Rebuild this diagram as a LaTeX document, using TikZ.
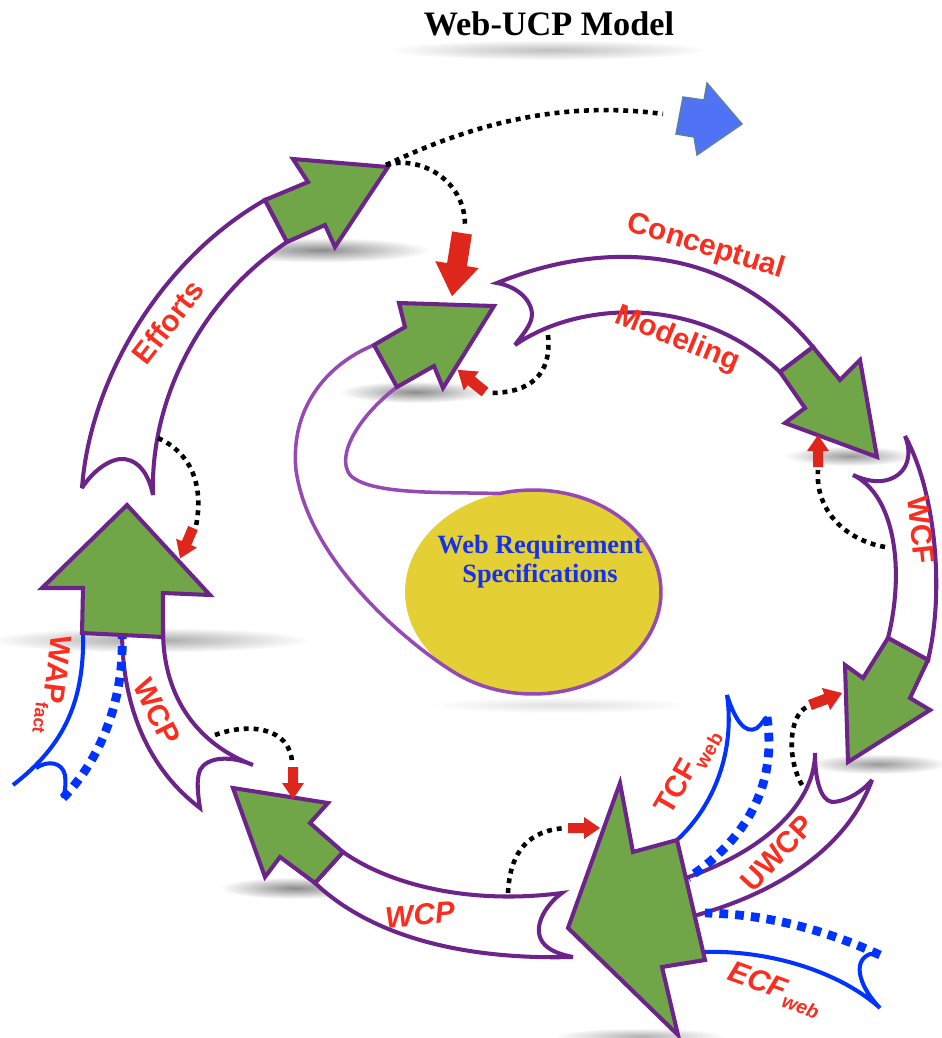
\documentclass[tikz,border=0pt]{standalone}
\usepackage{fontspec}
\setmainfont{Liberation Serif}
\newfontfamily\labfont{Liberation Sans}
\usetikzlibrary{fadings}
\tikzfading[name=blobfade, inner color=transparent!0, outer color=transparent!100]
\definecolor{purp}{RGB}{108,36,138}
\definecolor{loopc}{RGB}{150,72,180}
\definecolor{grn}{RGB}{112,166,72}
\definecolor{yel}{RGB}{228,208,52}
\definecolor{redl}{RGB}{250,45,30}
\definecolor{reda}{RGB}{222,38,28}
\definecolor{bluel}{RGB}{0,51,255}
\definecolor{bluet}{RGB}{20,50,235}
\definecolor{bluea}{RGB}{80,115,245}
\definecolor{blueedge}{RGB}{90,130,160}
\begin{document}
\begin{tikzpicture}[x=0.02cm,y=-0.02cm,
  band/.style={fill=white, draw=purp, line width=2.3pt, line join=miter, miter limit=4},
  head/.style={fill=grn, draw=purp, line width=2.3pt, line join=miter, miter limit=6},
  loopline/.style={draw=loopc, line width=2pt},
  bluesolid/.style={draw=bluel, line width=2.3pt},
  bluedot/.style={draw=bluel, line width=5pt, dash pattern=on 5pt off 4pt},
  blackdot/.style={draw=black, line width=2.6pt, dash pattern=on 2.8pt off 2.8pt},
  lbl/.style={text=redl, font=\labfont\bfseries\fontsize{17}{17}\selectfont, inner sep=0pt},
  lbli/.style={text=redl, font=\labfont\bfseries\itshape\fontsize{17}{17}\selectfont, inner sep=0pt},
  softshadow/.style={fill=black, opacity=#1, path fading=blobfade},
  pics/redarrow/.style={code={
    \fill[reda] (0,-5) -- (16,-5) -- (16,-11) -- (32,0) -- (16,11) -- (16,5) -- (0,5) -- cycle;}}
]
% canvas
\fill[white] (0,0) rectangle (941,1038);
\useasboundingbox (0,0) rectangle (941,1038);

% soft shadows under the title and the arrow heads
\fill[softshadow=.25] (549,50) ellipse [x radius=3.2cm, y radius=0.2cm];
\fill[softshadow=.45] (320,250) ellipse [x radius=2.2cm, y radius=0.25cm];
\fill[softshadow=.45] (415,392) ellipse [x radius=1.5cm, y radius=0.22cm];
\fill[softshadow=.4] (850,456) ellipse [x radius=1.3cm, y radius=0.2cm];
\fill[softshadow=.4] (878,764) ellipse [x radius=1.4cm, y radius=0.2cm];
\fill[softshadow=.35] (150,640) ellipse [x radius=3.2cm, y radius=0.25cm];
\fill[softshadow=.45] (295,888) ellipse [x radius=1.5cm, y radius=0.22cm];
\fill[softshadow=.3] (640,1036) ellipse [x radius=1.7cm, y radius=0.16cm];
\fill[softshadow=.12] (560,705) ellipse [x radius=2.6cm, y radius=0.16cm];

% title
\node[font=\bfseries\fontsize{19.5}{20}\selectfont, inner sep=0pt] (title) at (549,24) {Web-UCP Model};

% requirement ellipse with the loop that feeds the central arrow head
\fill[yel] (533,592) ellipse [x radius=2.56cm, y radius=2.04cm];
\coordinate (chin) at (397,387);
\coordinate (chout) at (374,345);
\draw[loopline] (chin) .. controls (360,415) and (335,455) .. (350,475)
  .. controls (370,495) and (440,492) .. (500,493.5)
  -- plot[domain=-105:125, samples=90, variable=\t] ({533+128*cos(\t)}, {592+102*sin(\t)})
  .. controls (425,656) and (310,570) .. (296,470)
  .. controls (290,410) and (325,365) .. (chout);
\node[text=bluet, font=\bfseries\fontsize{15}{16.5}\selectfont, align=center, inner sep=0pt] (wrs) at (540,562) {Web Requirement\\Specifications};

% curved bands
\path[band] (82,488) .. controls (90,380) and (160,260) .. (265,200) -- (287,242)
  .. controls (200,300) and (150,400) .. (153,495)
  .. controls (148,470) and (135,458) .. (120,459)
  .. controls (105,461) and (90,475) .. (82,488) -- cycle;
\path[band] (497,283) .. controls (590,245) and (720,235) .. (813,347) -- (780,372)
  .. controls (700,295) and (580,300) .. (515,345)
  .. controls (522,335) and (532,325) .. (532,314)
  .. controls (531,298) and (515,286) .. (497,283) -- cycle;
\path[band] (905,436) .. controls (935,490) and (945,590) .. (928,660) -- (888,638)
  .. controls (905,570) and (895,495) .. (853,475)
  .. controls (862,479) and (872,482) .. (882,481)
  .. controls (905,478) and (914,458) .. (905,436) -- cycle;
\path[band] (680,880) .. controls (770,850) and (815,800) .. (815,753)
  .. controls (815,778) and (820,800) .. (832,802)
  .. controls (845,802) and (862,792) .. (872,780)
  .. controls (850,840) and (790,890) .. (690,917) -- cycle;
\path[band] (122,630) .. controls (122,710) and (150,770) .. (200,808)
  .. controls (198,795) and (196,780) .. (200,770)
  .. controls (207,757) and (230,755) .. (253,765)
  .. controls (200,745) and (163,700) .. (163,630) -- cycle;
\path[band] (343,852) .. controls (390,885) and (470,905) .. (562,893)
  .. controls (545,905) and (530,930) .. (545,945)
  .. controls (552,952) and (563,955) .. (573,957)
  .. controls (460,960) and (370,935) .. (315,883) -- cycle;

% half bands of the adjustment factors
\draw[bluesolid] (677,840) .. controls (715,805) and (735,750) .. (727,695)
  .. controls (735,720) and (745,735) .. (757,728)
  .. controls (762,724) and (764,719) .. (767,717);
\draw[bluedot] (767,717) .. controls (775,770) and (760,830) .. (688,878);
\draw[bluesolid] (705,952) .. controls (770,950) and (840,972) .. (880,1008)
  .. controls (862,990) and (850,962) .. (870,954) -- (878,955);
\draw[bluedot] (880,955) .. controls (830,932) and (770,914) .. (705,913);
\draw[bluesolid] (83,630) .. controls (85,700) and (65,745) .. (13,785);
\draw[bluesolid] (36,768) .. controls (48,760) and (62,762) .. (65,775)
  .. controls (66,785) and (65,792) .. (63,798);
\draw[bluedot] (63,798) .. controls (100,760) and (125,700) .. (122,632);

% green arrow heads
\path[head] (265,200) -- (308,182) -- (293,159) -- (388,167) -- (335,247) -- (325,225) -- (287,242) -- cycle;
\path[head] (chout) -- (405,327) -- (399,303) -- (494,306) -- (443,388) -- (434,366) -- (chin) -- cycle;
\path[head] (813,347) -- (840,380) -- (860,360) -- (877,457) -- (785,423) -- (805,408) -- (780,372) -- cycle;
\path[head] (888,638) -- (928,660) -- (910,698) -- (930,710) -- (848,762) -- (845,665) -- (863,678) -- cycle;
\path[head] (677,840) -- (633,852) -- (620,783) -- (568,928) -- (678,1035) -- (662,967) -- (705,960) -- cycle;
\path[head] (127,505) -- (210,595) -- (163,593) -- (163,637) -- (82,633) -- (83,588) -- (42,588) -- cycle;
\path[head] (233,788) -- (328,803) -- (310,823) -- (343,852) -- (315,883) -- (280,857) -- (265,877) -- cycle;

% labels
\node[lbl, rotate=-17] (lconc) at (706,247) {Conceptual};
\node[lbl, rotate=-22] (lmod) at (677,340) {Modeling};
\node[lbl, rotate=52] (leff) at (168,322) {Efforts};
\node[lbl, rotate=-84] (lwcf) at (921,530) {WCF};
\node[lbl, rotate=47] (luwcp) at (777,853) {UWCP};
\node[lbl, rotate=60] (ltcf) at (688,772) {TCF\raisebox{-4pt}{\fontsize{11}{11}\selectfont web}};
\node[lbli, rotate=-20] (lecf) at (775,990) {ECF\raisebox{-4pt}{\fontsize{11}{11}\selectfont web}};
\node[lbl, rotate=-97] (lwap) at (52,685) {WAP\raisebox{-4pt}{\fontsize{10}{10}\selectfont fact}};
\node[lbl, rotate=-63] (lwcpl) at (157,712) {WCP};
\node[lbli, rotate=5] (lwcpb) at (420,915) {WCP};

% dotted feedback connectors
\coordinate (efftip) at (386,165);
\coordinate (outarrow) at (663,114);
\draw[blackdot] (efftip) .. controls (470,125) and (560,100) .. (outarrow);
\draw[blackdot] (efftip) .. controls (420,155) and (465,180) .. (465,225);
\draw[blackdot] (548,335) .. controls (552,375) and (530,393) .. (490,393);
\draw[blackdot] (885,547) .. controls (845,540) and (815,510) .. (818,470);
\draw[blackdot] (158,438) .. controls (195,455) and (203,490) .. (196,526);
\draw[blackdot] (215,735) .. controls (250,722) and (290,728) .. (292,762);
\draw[blackdot] (508,893) .. controls (510,850) and (530,830) .. (566,828);
\draw[blackdot] (802,785) .. controls (785,755) and (790,710) .. (810,706);

% red pointers
\pic[rotate=-99, scale=2] at (462,233) {redarrow};
\pic[rotate=141, scale=1.1] at (485,392) {redarrow};
\pic[rotate=90] at (818,467) {redarrow};
\pic[rotate=-113, scale=1.03] at (193,528) {redarrow};
\pic[rotate=-90] at (293,767) {redarrow};
\pic[rotate=0] at (568,828) {redarrow};
\pic[rotate=20.6, scale=1.07] at (810,705) {redarrow};

% outgoing blue arrow
\filldraw[fill=bluea, draw=blueedge, line width=0.8pt] (676,134) -- (683,97) -- (704,100) -- (707,83) -- (742,124) -- (697,155) -- (694,137) -- cycle;
\end{tikzpicture}
\end{document}
